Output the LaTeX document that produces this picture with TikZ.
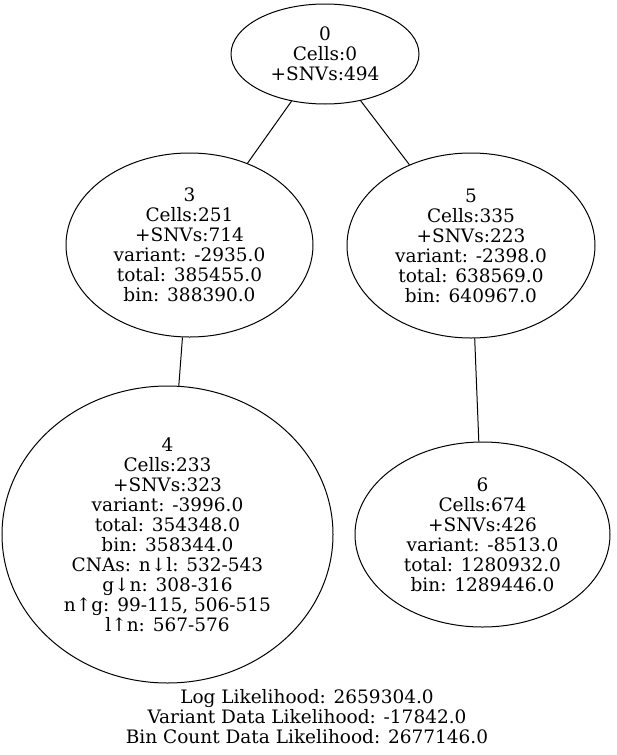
\documentclass[tikz,border=0pt]{standalone}
\usepackage{fontspec}
\setmainfont{DejaVu Serif}
\usetikzlibrary{shapes.geometric}

\begin{document}
\begin{tikzpicture}[
    x=1pt, y=-1pt, line width=1pt,
    clone/.style={draw, ellipse, inner sep=0pt, align=center, font=\fontsize{18.5}{20}\selectfont}
]
    \useasboundingbox (0,0) rectangle (616,755);

    % Clone tree
    \node[clone, minimum width=188pt, minimum height=100pt] (n0) at (325,54) {0\\Cells:0\\+SNVs:494};
    \node[clone, minimum width=247pt, minimum height=184pt] (n3) at (189.5,245) {3\\Cells:251\\+SNVs:714\\variant: -2935.0\\total: 385455.0\\bin: 388390.0};
    \node[clone, minimum width=248pt, minimum height=185pt] (n5) at (471,245.5) {5\\Cells:335\\+SNVs:223\\variant: -2398.0\\total: 638569.0\\bin: 640967.0};
    \node[clone, minimum width=331pt, minimum height=297pt] (n4) at (167.5,534.5) {4\\Cells:233\\+SNVs:323\\variant: -3996.0\\total: 354348.0\\bin: 358344.0\\CNAs: n↓l: 532-543\\g↓n: 308-316\\n↑g: 99-115, 506-515\\l↑n: 567-576};
    \node[clone, minimum width=255pt, minimum height=185pt] (n6) at (482.5,534.5) {6\\Cells:674\\+SNVs:426\\variant: -8513.0\\total: 1280932.0\\bin: 1289446.0};

    \draw (n0) -- (n3);
    \draw (n0) -- (n5);
    \draw (n3) -- (n4);
    \draw (n5) -- (n6);

    % Likelihood summary
    \node[align=center, inner sep=0pt, font=\fontsize{18.5}{20}\selectfont] (summary) at (307,717) {Log Likelihood: 2659304.0\\Variant Data Likelihood: -17842.0\\Bin Count Data Likelihood: 2677146.0};
\end{tikzpicture}
\end{document}
